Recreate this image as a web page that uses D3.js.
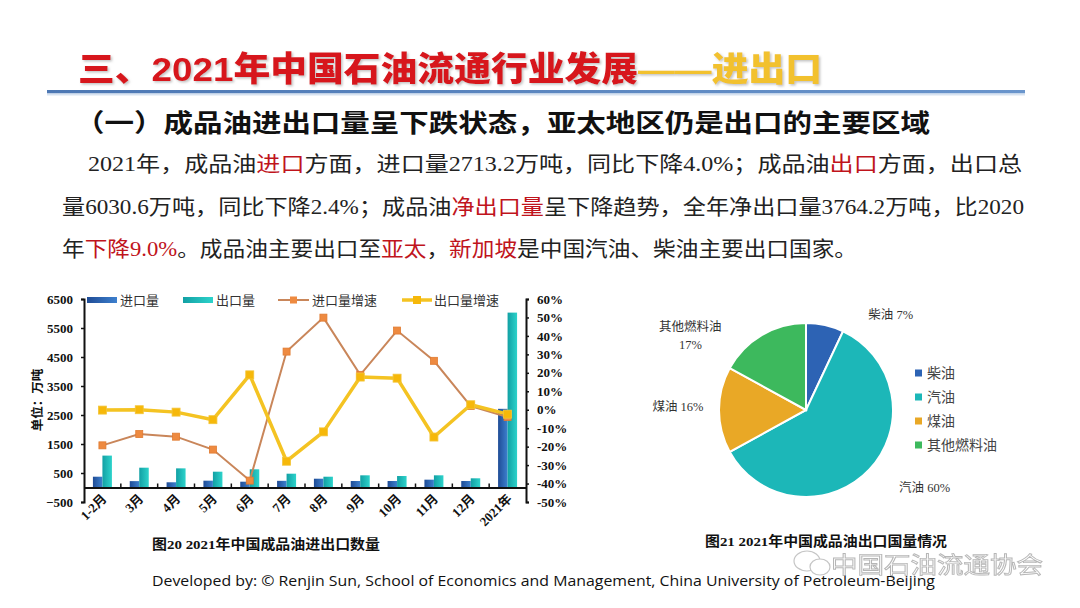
<!DOCTYPE html>
<html>
<head>
<meta charset="utf-8">
<script src="https://cdn.jsdelivr.net/npm/d3@7"></script>
<style>
  html, body { margin: 0; padding: 0; background: #fff; }
  svg { display: block; }
</style>
</head>
<body>
<svg id="root" width="1080" height="608"></svg>
<script>
// ---------------- DATA ----------------
const categories = ["1-2月","3月","4月","5月","6月","7月","8月","9月","10月","11月","12月","2021年"];
const importVol = [372, 220, 180, 235, 200, 230, 303, 224, 224, 270, 224, 2713.2];   // 万吨
const exportVol = [1100, 683, 660, 545, 628, 476, 372, 420, 396, 420, 317, 6030.6]; // 万吨
const importGrowth = [-19.3, -13.2, -14.6, -21.6, -38.4, 31.5, 49.9, 18.9, 42.9, 26.5, 2.0, -4.0]; // %
const exportGrowth = [-0.2, 0.0, -1.3, -5.4, 18.9, -27.9, -12.0, 17.7, 17.1, -14.8, 2.7, -2.4];    // %
const leftTicks = [-500, 500, 1500, 2500, 3500, 4500, 5500, 6500];
const rightTicks = [-50, -40, -30, -20, -10, 0, 10, 20, 30, 40, 50, 60];
const seriesNames = ["进口量", "出口量", "进口量增速", "出口量增速"];

const pieCategories = ["柴油", "汽油", "煤油", "其他燃料油"];
const pieShares = [7, 60, 16, 17]; // %

// ---------------- SETUP ----------------
const svg = d3.select("#root");
svg.append("rect").attr("width", 1080).attr("height", 608).attr("fill", "#fff");
const defs = svg.append("defs");

function hGrad(id, c1, c2) {
  const g = defs.append("linearGradient").attr("id", id).attr("x1", "0").attr("x2", "1").attr("y1", "0").attr("y2", "0");
  g.append("stop").attr("offset", "0").attr("stop-color", c1);
  g.append("stop").attr("offset", "1").attr("stop-color", c2);
}
hGrad("gImp", "#1F4C96", "#3D80CE");
hGrad("gExp", "#12A0A4", "#2DD3CB");
hGrad("gLine", "#4D78B4", "#6A95CC");

const shadow = defs.append("filter").attr("id", "tshadow").attr("x", "-5%").attr("y", "-20%").attr("width", "110%").attr("height", "150%");
shadow.append("feDropShadow").attr("dx", 1.5).attr("dy", 1.5).attr("stdDeviation", 1).attr("flood-color", "#999").attr("flood-opacity", 0.6);

const cjkSans = "'Noto Sans CJK SC', sans-serif";
const serifMix = "'Liberation Serif', 'Noto Sans CJK SC', serif";

// ---------------- HEADER ----------------
const title = svg.append("text")
  .attr("x", 78).attr("y", 81)
  .attr("font-family", "'Liberation Sans', 'Noto Sans CJK SC', sans-serif")
  .attr("font-weight", 900).attr("font-size", 34)
  .attr("textLength", 744).attr("lengthAdjust", "spacingAndGlyphs")
  .attr("filter", "url(#tshadow)");
title.append("tspan").attr("fill", "#D7141C").text("三、2021年中国石油流通行业发展");
title.append("tspan").attr("fill", "#F2C12E").text("——进出口");

svg.append("rect").attr("x", 47).attr("y", 90).attr("width", 978).attr("height", 3.5).attr("fill", "url(#gLine)");
svg.append("rect").attr("x", 47).attr("y", 93.5).attr("width", 978).attr("height", 2).attr("fill", "#D8E3F1");

svg.append("text")
  .attr("x", 75).attr("y", 132)
  .attr("font-family", cjkSans).attr("font-weight", 700).attr("font-size", 25)
  .attr("textLength", 855).attr("lengthAdjust", "spacingAndGlyphs")
  .attr("fill", "#111")
  .text("（一）成品油进出口量呈下跌状态，亚太地区仍是出口的主要区域");

// paragraph
const red = "#C0141C";
const paraLines = [
  { x: 88, y: 171, len: 934, parts: [["2021年，成品油", 0], ["进口", 1], ["方面，进口量2713.2万吨，同比下降4.0%；成品油", 0], ["出口", 1], ["方面，出口总", 0]] },
  { x: 62, y: 214, len: 962, parts: [["量6030.6万吨，同比下降2.4%；成品油", 0], ["净出口量", 1], ["呈下降趋势，全年净出口量3764.2万吨，比2020", 0]] },
  { x: 62, y: 256, len: 795, parts: [["年", 0], ["下降9.0%", 1], ["。成品油主要出口至", 0], ["亚太", 1], ["，", 0], ["新加坡", 1], ["是中国汽油、柴油主要出口国家。", 0]] }
];
paraLines.forEach(l => {
  const t = svg.append("text").attr("x", l.x).attr("y", l.y)
    .attr("font-family", serifMix).attr("font-size", 21)
    .attr("textLength", l.len).attr("lengthAdjust", "spacingAndGlyphs");
  l.parts.forEach(p => t.append("tspan").attr("fill", p[1] ? red : "#222").text(p[0]));
});

// ---------------- COMBO CHART ----------------
const x = d3.scaleBand().domain(categories).range([84, 526]).paddingInner(0).paddingOuter(0);
const yL = d3.scaleLinear().domain([-500, 6500]).range([502, 299]);
const yR = d3.scaleLinear().domain([-50, 60]).range([502, 299]);
const bw = x.bandwidth();
const y0 = yL(0);

const chart = svg.append("g");

// bars
const barW = 9.5;
chart.selectAll("rect.imp").data(categories).join("rect").attr("class", "imp")
  .attr("x", d => x(d) + bw / 2 - barW)
  .attr("width", barW)
  .attr("y", (d, i) => yL(importVol[i]))
  .attr("height", (d, i) => y0 - yL(importVol[i]))
  .attr("fill", "url(#gImp)");
chart.selectAll("rect.exp").data(categories).join("rect").attr("class", "exp")
  .attr("x", d => x(d) + bw / 2)
  .attr("width", barW)
  .attr("y", (d, i) => yL(exportVol[i]))
  .attr("height", (d, i) => y0 - yL(exportVol[i]))
  .attr("fill", "url(#gExp)");

// left axis
const axL = chart.append("g").attr("transform", "translate(84,0)")
  .call(d3.axisLeft(yL).tickValues(leftTicks).tickSize(3).tickPadding(8).tickFormat(d3.format("d")));
axL.select(".domain").attr("stroke", "#111").attr("stroke-width", 2);
axL.selectAll(".tick line").attr("stroke", "#111").attr("stroke-width", 1.5);
axL.selectAll("text").attr("font-family", "'Liberation Serif', serif").attr("font-weight", 700).attr("font-size", 13).attr("fill", "#111");

// right axis
const axR = chart.append("g").attr("transform", "translate(526,0)")
  .call(d3.axisRight(yR).tickValues(rightTicks).tickSize(3).tickPadding(8).tickFormat(d => d + "%"));
axR.select(".domain").attr("stroke", "#111").attr("stroke-width", 2);
axR.selectAll(".tick line").attr("stroke", "#111").attr("stroke-width", 1.5);
axR.selectAll("text").attr("font-family", "'Liberation Serif', serif").attr("font-weight", 700).attr("font-size", 13).attr("fill", "#111");

// x axis
const axX = chart.append("g").attr("transform", `translate(0,${y0})`)
  .call(d3.axisBottom(x).tickSize(0).tickSizeOuter(0).tickFormat(""));
axX.select(".domain").attr("stroke", "#111").attr("stroke-width", 2);
chart.selectAll("line.sep").data(categories.slice(1)).join("line").attr("class", "sep")
  .attr("x1", d => x(d)).attr("x2", d => x(d))
  .attr("y1", y0 - 4).attr("y2", y0)
  .attr("stroke", "#111").attr("stroke-width", 1.5);
chart.selectAll("text.xl").data(categories).join("text").attr("class", "xl")
  .attr("transform", d => `translate(${x(d) + bw / 2 + 5},${y0 + 12}) rotate(-45)`)
  .attr("text-anchor", "end")
  .attr("font-family", serifMix).attr("font-weight", 700).attr("font-size", 13).attr("fill", "#111")
  .text(d => d);

// lines
const cx = d => x(d) + bw / 2;
const lineGen = d3.line().x((d, i) => cx(categories[i])).y(d => yR(d));
chart.append("path").datum(importGrowth).attr("d", lineGen)
  .attr("fill", "none").attr("stroke", "#C9865A").attr("stroke-width", 2);
chart.selectAll("rect.mi").data(importGrowth).join("rect").attr("class", "mi")
  .attr("x", (d, i) => cx(categories[i]) - 3.5).attr("y", d => yR(d) - 3.5)
  .attr("width", 7).attr("height", 7)
  .attr("fill", "#EE8A40").attr("stroke", "#E07A30").attr("stroke-width", 0.8);

chart.append("path").datum(exportGrowth).attr("d", lineGen)
  .attr("fill", "none").attr("stroke", "#F4C322").attr("stroke-width", 3.5).attr("stroke-linejoin", "round");
chart.selectAll("rect.me").data(exportGrowth).join("rect").attr("class", "me")
  .attr("x", (d, i) => cx(categories[i]) - 4).attr("y", d => yR(d) - 4)
  .attr("width", 8).attr("height", 8)
  .attr("fill", "#F6B80A").attr("stroke", "#F3C53A").attr("stroke-width", 0.8);

// legend
const lg = chart.append("g").attr("font-family", cjkSans).attr("font-size", 13).attr("fill", "#333");
lg.append("rect").attr("x", 87).attr("y", 297).attr("width", 30).attr("height", 6).attr("fill", "url(#gImp)");
lg.append("text").attr("x", 120).attr("y", 305).text(seriesNames[0]);
lg.append("rect").attr("x", 183).attr("y", 297).attr("width", 30).attr("height", 6).attr("fill", "url(#gExp)");
lg.append("text").attr("x", 216).attr("y", 305).text(seriesNames[1]);
lg.append("line").attr("x1", 278).attr("x2", 309).attr("y1", 300).attr("y2", 300).attr("stroke", "#C9865A").attr("stroke-width", 2);
lg.append("rect").attr("x", 290).attr("y", 296.5).attr("width", 7).attr("height", 7).attr("fill", "#EE8A40");
lg.append("text").attr("x", 312).attr("y", 305).text(seriesNames[2]);
lg.append("line").attr("x1", 402).attr("x2", 432).attr("y1", 300).attr("y2", 300).attr("stroke", "#F4C322").attr("stroke-width", 3.5);
lg.append("rect").attr("x", 413).attr("y", 296).attr("width", 8).attr("height", 8).attr("fill", "#F6B80A");
lg.append("text").attr("x", 434).attr("y", 305).text(seriesNames[3]);

// y-axis title
chart.append("text").attr("transform", "translate(42,400) rotate(-90)")
  .attr("text-anchor", "middle")
  .attr("font-family", cjkSans).attr("font-weight", 700).attr("font-size", 12.5).attr("fill", "#111")
  .text("单位：万吨");

// caption
chart.append("text").attr("x", 152).attr("y", 549)
  .attr("font-family", serifMix).attr("font-weight", 700).attr("font-size", 13.5).attr("fill", "#111")
  .attr("textLength", 228).attr("lengthAdjust", "spacingAndGlyphs")
  .text("图20 2021年中国成品油进出口数量");

// ---------------- PIE ----------------
const pieColors = d3.scaleOrdinal().domain(pieCategories).range(["#2D63B4", "#1CB7B8", "#E9A826", "#3DB95D"]);
const pcx = 806, pcy = 410, pr = 87;
const pg = svg.append("g").attr("transform", `translate(${pcx},${pcy})`);
const pieGen = d3.pie().sort(null).value(d => d);
const arcs = pieGen(pieShares);
const arcGen = d3.arc().innerRadius(0).outerRadius(pr);
pg.selectAll("path").data(arcs).join("path")
  .attr("d", arcGen)
  .attr("fill", (d, i) => pieColors(pieCategories[i]))
  .attr("stroke", "#fff").attr("stroke-width", 2);

const labelArc = d3.arc().innerRadius(pr + 40).outerRadius(pr + 40);
const labelShift = [[57, 29], [26, -9], [-1, -3], [-51, 35]];
arcs.forEach((a, i) => {
  const c = labelArc.centroid(a);
  const lx = c[0] + labelShift[i][0], ly = c[1] + labelShift[i][1];
  const t = pg.append("text").attr("text-anchor", "middle")
    .attr("font-family", serifMix).attr("font-size", 12.5).attr("fill", "#333");
  if (pieCategories[i].length > 3) {
    t.append("tspan").attr("x", lx).attr("y", ly - 9 + 4).text(pieCategories[i]);
    t.append("tspan").attr("x", lx).attr("y", ly + 9 + 4).text(pieShares[i] + "%");
  } else {
    t.attr("x", lx).attr("y", ly + 4).text(pieCategories[i] + " " + pieShares[i] + "%");
  }
});

// pie legend
const pl = svg.append("g");
pieCategories.forEach((c, i) => {
  const yy = 373 + i * 24;
  pl.append("rect").attr("x", 915).attr("y", yy - 3.5).attr("width", 7).attr("height", 7).attr("fill", pieColors(c));
  pl.append("text").attr("x", 927).attr("y", yy + 5)
    .attr("font-family", cjkSans).attr("font-size", 14).attr("fill", "#444").text(c);
});

svg.append("text").attr("x", 705).attr("y", 546)
  .attr("font-family", serifMix).attr("font-weight", 700).attr("font-size", 13.5).attr("fill", "#111")
  .attr("textLength", 242).attr("lengthAdjust", "spacingAndGlyphs")
  .text("图21 2021年中国成品油出口国量情况");

// ---------------- FOOTER & WATERMARK ----------------
svg.append("text").attr("x", 152).attr("y", 586)
  .attr("font-family", "'Open Sans', 'Liberation Sans', sans-serif").attr("font-size", 15).attr("fill", "#111")
  .attr("textLength", 783).attr("lengthAdjust", "spacingAndGlyphs")
  .text("Developed by: © Renjin Sun, School of Economics and Management,  China University of Petroleum-Beijing");

const wm = svg.append("g").attr("opacity", 0.85);
wm.append("ellipse").attr("cx", 807).attr("cy", 561).attr("rx", 13).attr("ry", 10).attr("fill", "none").attr("stroke", "#bbb").attr("stroke-width", 1.2);
wm.append("ellipse").attr("cx", 820).attr("cy", 567).attr("rx", 10).attr("ry", 8).attr("fill", "#fff").attr("stroke", "#bbb").attr("stroke-width", 1.2);
wm.append("text").attr("x", 831).attr("y", 573)
  .attr("font-family", cjkSans).attr("font-size", 23)
  .attr("fill", "#fff").attr("stroke", "#aaa").attr("stroke-width", 0.9)
  .attr("textLength", 212).attr("lengthAdjust", "spacingAndGlyphs")
  .text("中国石油流通协会");
</script>
</body>
</html>
